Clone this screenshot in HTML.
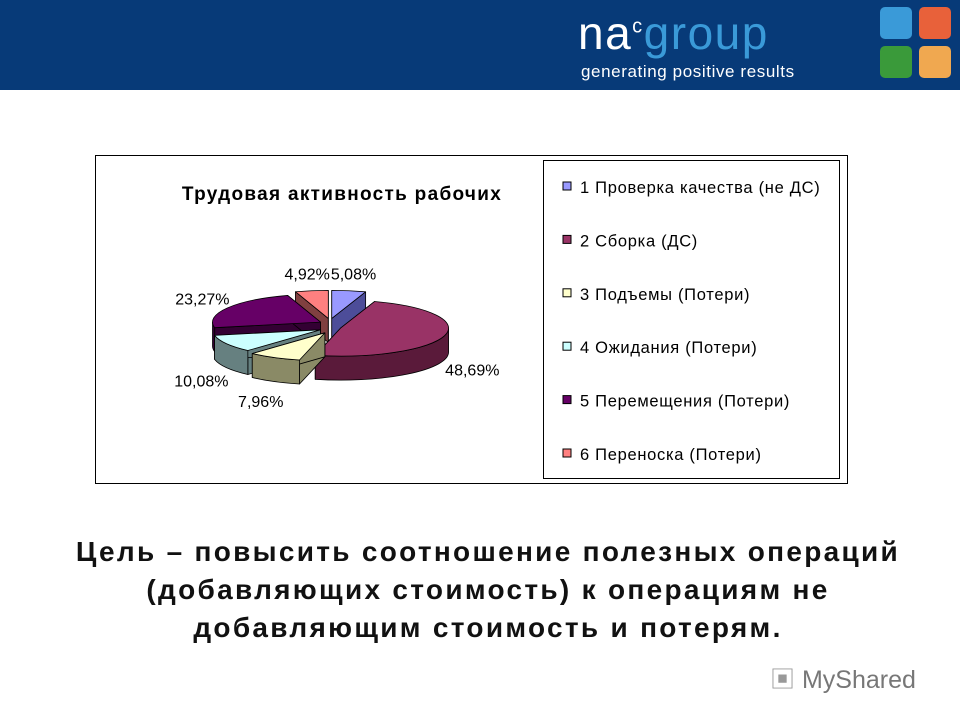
<!DOCTYPE html>
<html><head><meta charset="utf-8"><style>
body{margin:0;width:960px;height:720px;background:#fff;position:relative;overflow:hidden;font-family:"Liberation Sans","Noto Sans CJK SC",sans-serif}
.hdr{position:absolute;left:0;top:0;width:960px;height:90px;background:#073a78}
.abs{position:absolute}
.foot{position:absolute;left:18px;width:940px;text-align:center;font-size:28px;font-weight:bold;color:#111;line-height:38px;top:533px;letter-spacing:2.3px;white-space:nowrap}
</style></head><body>
<div class="hdr">
 <div class="abs" style="left:578px;top:6px;font-size:46px;letter-spacing:1.5px;color:#fff;font-family:'Liberation Sans',sans-serif">na<sup style="font-size:20px">c</sup><span style="color:#3a9ad8">group</span></div>
 <div class="abs" style="left:581px;top:62px;font-size:17px;color:#fff;letter-spacing:0.6px">generating positive results</div>
 <div class="abs" style="left:880px;top:7px;width:32px;height:32px;background:#3a9ad8;border-radius:5px"></div>
 <div class="abs" style="left:919px;top:7px;width:32px;height:32px;background:#e8613a;border-radius:5px"></div>
 <div class="abs" style="left:880px;top:46px;width:32px;height:32px;background:#3a9a3a;border-radius:5px"></div>
 <div class="abs" style="left:919px;top:46px;width:32px;height:32px;background:#f0a850;border-radius:5px"></div>
</div>
<svg class="abs" style="left:0;top:0" width="960" height="720" id="chart">
 <rect x="95.5" y="155.5" width="752" height="328" fill="#fff" stroke="#000"/>
 <rect x="543.5" y="160.5" width="296" height="318" fill="#fff" stroke="#000"/>
 <text x="342" y="200" font-size="19" font-weight="bold" letter-spacing="1.3" text-anchor="middle" fill="#000" font-family="Liberation Sans, sans-serif">Трудовая активность рабочих</text>
 <g id="pie"></g>
 <g id="legend"></g>
</svg>
<div class="foot">Цель – повысить соотношение полезных операций<br>(добавляющих стоимость) к операциям не<br>добавляющим стоимость и потерям.</div>
<div class="abs" style="left:770px;top:660px;font-size:25px;color:#999">▣ <span style="color:#777">MyShared</span></div>
<script>
const categories=["1 Проверка качества (не ДС)","2 Сборка (ДС)","3 Подъемы (Потери)","4 Ожидания (Потери)","5 Перемещения (Потери)","6 Переноска (Потери)"];
const values=[5.08,48.69,7.96,10.08,23.27,4.92];
const labels=["5,08%","48,69%","7,96%","10,08%","23,27%","4,92%"];
const topColors=["#9999ff","#993366","#ffffcc","#ccffff","#660066","#ff8080"];
const sideColors=["#4d4d99","#5a1a3a","#8a8a66","#668080","#330033","#804040"];
const NS="http://www.w3.org/2000/svg";
const cx=330,cy=326,rx=108,ry=28,depth=24,explode=11;
const pie=document.getElementById('pie');
const total=values.reduce((a,b)=>a+b,0);
function pt(a,ox,oy,dy){return [ox+rx*Math.sin(a),oy-ry*Math.cos(a)+dy];}
let start=0;const sl=[];
values.forEach((v,i)=>{const a0=start/total*2*Math.PI,a1=(start+v)/total*2*Math.PI;start+=v;
 const m=(a0+a1)/2;sl.push({i,a0,a1,m,ox:cx+explode*Math.sin(m),oy:cy-explode*0.7*Math.cos(m)});});
function mk(d,fill,name,inter){const p=document.createElementNS(NS,'path');p.setAttribute('d',d);p.setAttribute('fill',fill);p.setAttribute('stroke','#000');p.setAttribute('stroke-width','0.8');p.setAttribute('stroke-linejoin','round');
 
 
 pie.appendChild(p);}
function topPath(s){const p0=pt(s.a0,s.ox,s.oy,0),p1=pt(s.a1,s.ox,s.oy,0);const large=(s.a1-s.a0)>Math.PI?1:0;
 return `M${s.ox},${s.oy} L${p0[0]},${p0[1]} A${rx},${ry} 0 ${large} 1 ${p1[0]},${p1[1]} Z`;}
function radial(s,a){const e=pt(a,s.ox,s.oy,0);return `M${s.ox},${s.oy} L${e[0]},${e[1]} L${e[0]},${e[1]+depth} L${s.ox},${s.oy+depth} Z`;}
function wall(s){const b0=Math.max(s.a0,Math.PI/2),b1=Math.min(s.a1,3*Math.PI/2);if(b1<=b0)return null;
 const p0=pt(b0,s.ox,s.oy,0),p1=pt(b1,s.ox,s.oy,0);
 return `M${p0[0]},${p0[1]} A${rx},${ry} 0 0 1 ${p1[0]},${p1[1]} L${p1[0]},${p1[1]+depth} A${rx},${ry} 0 0 0 ${p0[0]},${p0[1]+depth} Z`;}
const order=sl.slice().sort((a,b)=>(-Math.cos(a.m))-(-Math.cos(b.m)));
order.forEach(s=>{
 mk(radial(s,s.a0),sideColors[s.i],'slice-face-a-'+(s.i+1),'false');
 mk(radial(s,s.a1),sideColors[s.i],'slice-face-b-'+(s.i+1),'false');
 const w=wall(s);if(w)mk(w,sideColors[s.i],'slice-wall-'+(s.i+1),'false');
 mk(topPath(s),topColors[s.i],'slice-'+(s.i+1),'true');
});
sl.forEach(s=>{
 const lx=cx+(rx+40)*Math.sin(s.m),ly=cy-(ry+24)*Math.cos(s.m)+(Math.cos(s.m)<0?depth+6:0)+5;
 const t=document.createElementNS(NS,'text');t.setAttribute('x',lx);t.setAttribute('y',ly);t.setAttribute('font-size','16');t.setAttribute('text-anchor','middle');t.setAttribute('font-family','Liberation Sans, sans-serif');t.textContent=labels[s.i];
 
 
 pie.appendChild(t);});
const lg=document.getElementById('legend');
categories.forEach((c,i)=>{const y=187+i*53.4;
 const r=document.createElementNS(NS,'rect');r.setAttribute('x',563);r.setAttribute('y',y-5);r.setAttribute('width',8);r.setAttribute('height',8);r.setAttribute('fill',topColors[i]);r.setAttribute('stroke','#000');
 
 
 lg.appendChild(r);
 const t=document.createElementNS(NS,'text');t.setAttribute('x',580);t.setAttribute('y',y+6);t.setAttribute('font-size','16.5');t.setAttribute('letter-spacing','0.7');t.setAttribute('font-family','Liberation Sans, sans-serif');t.textContent=c;
 
 
 lg.appendChild(t);});
</script>
</body></html>
